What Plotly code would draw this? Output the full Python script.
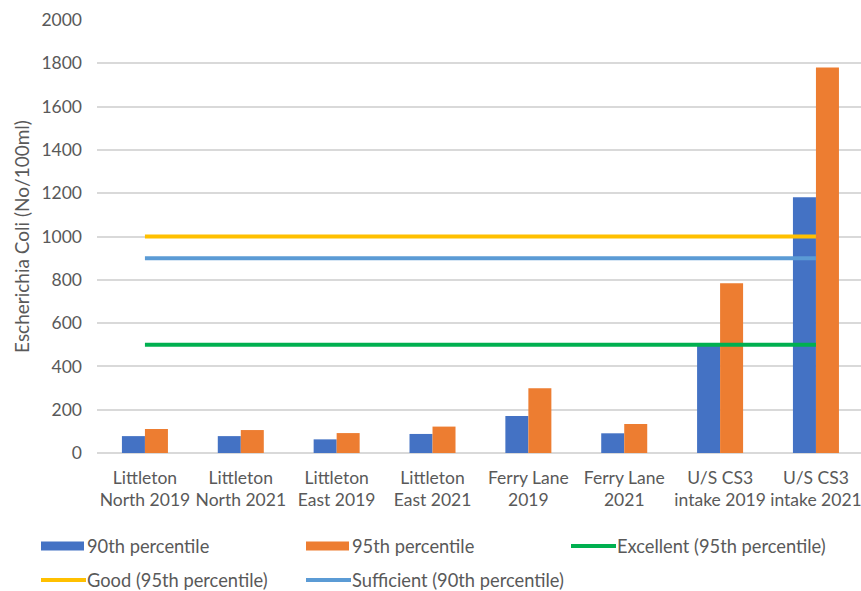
import plotly.graph_objects as go

# Sampling sites
categories = [
    "Littleton<br>North 2019", "Littleton<br>North 2021",
    "Littleton<br>East 2019", "Littleton<br>East 2021",
    "Ferry Lane<br>2019", "Ferry Lane<br>2021",
    "U/S CS3<br>intake 2019", "U/S CS3<br>intake 2021",
]

# E. coli counts (No/100ml)
p90 = [78, 78, 63, 88, 171, 91, 505, 1181]
p95 = [111, 106, 92, 122, 299, 134, 784, 1781]

# Bathing water classification thresholds
excellent_95 = 500
good_95 = 1000
sufficient_90 = 900

y_ticks = [0, 200, 400, 600, 800, 1000, 1200, 1400, 1600, 1800, 2000]

BLUE = "#4472c4"
ORANGE = "#ed7d31"
GREEN = "#00b050"
YELLOW = "#ffc000"
LIGHTBLUE = "#5b9bd5"
TEXT = "#595959"
FONT = "Lato"

W, H = 861, 591
L, R, T, B = 97, 0, 20, 138

fig = go.Figure()
fig.add_bar(x=categories, y=p90, name="90th percentile", marker_color=BLUE, marker_line_width=0)
fig.add_bar(x=categories, y=p95, name="95th percentile", marker_color=ORANGE, marker_line_width=0)

ends = [categories[0], categories[-1]]
fig.add_scatter(x=ends, y=[excellent_95] * 2, mode="lines", line=dict(color=GREEN, width=4),
                name="Excellent (95th percentile)")
fig.add_scatter(x=ends, y=[good_95] * 2, mode="lines", line=dict(color=YELLOW, width=4),
                name="Good (95th percentile)")
fig.add_scatter(x=ends, y=[sufficient_90] * 2, mode="lines", line=dict(color=LIGHTBLUE, width=4),
                name="Sufficient (90th percentile)")

# Legend drawn below the axis in pixel units
pw, ph = W - L - R, H - T - B


def px(x):
    return (x - L) / pw


def py(y):
    return (H - B - y) / ph


legend_items = [
    ("rect", BLUE, "90th percentile", 41, 546),
    ("rect", ORANGE, "95th percentile", 306, 546),
    ("line", GREEN, "Excellent (95th percentile)", 571, 546),
    ("line", YELLOW, "Good (95th percentile)", 41, 580),
    ("line", LIGHTBLUE, "Sufficient (90th percentile)", 306, 580),
]
for kind, color, label, x0, yc in legend_items:
    if kind == "rect":
        fig.add_shape(type="rect", xref="paper", yref="paper",
                      x0=px(x0), x1=px(x0 + 43), y0=py(yc - 4.5), y1=py(yc + 4.5),
                      fillcolor=color, line_width=0)
    else:
        fig.add_shape(type="line", xref="paper", yref="paper",
                      x0=px(x0), x1=px(x0 + 45), y0=py(yc), y1=py(yc),
                      line=dict(color=color, width=4))
    fig.add_annotation(xref="paper", yref="paper", x=px(x0 + 44), y=py(yc),
                       text=label, showarrow=False, xanchor="left", yanchor="middle",
                       font=dict(family=FONT, size=18.3, color=TEXT))

fig.update_layout(
    width=W, height=H,
    margin=dict(l=L, r=R, t=T, b=B),
    paper_bgcolor="white", plot_bgcolor="white",
    barmode="group", bargap=0.52, bargroupgap=0,
    showlegend=False,
    font=dict(family=FONT, size=18, color=TEXT),
)
fig.update_xaxes(
    range=[-0.5, 7.47], showgrid=False, showline=False, ticks="",
    ticklabelstandoff=12,
    tickfont=dict(family=FONT, size=17.5, color=TEXT),
)
fig.update_yaxes(
    range=[0, 2000], tickvals=y_ticks, showgrid=True, gridcolor="#d9d9d9", gridwidth=1.5,
    zeroline=True, zerolinecolor="#d9d9d9", zerolinewidth=1.5,
    showline=False, ticks="", ticklabelstandoff=14,
    tickfont=dict(family=FONT, size=17.5, color=TEXT),
    title=dict(text="Escherichia Coli (No/100ml)", standoff=6,
               font=dict(family=FONT, size=19, color=TEXT)),
)

fig.write_html("out.html")
